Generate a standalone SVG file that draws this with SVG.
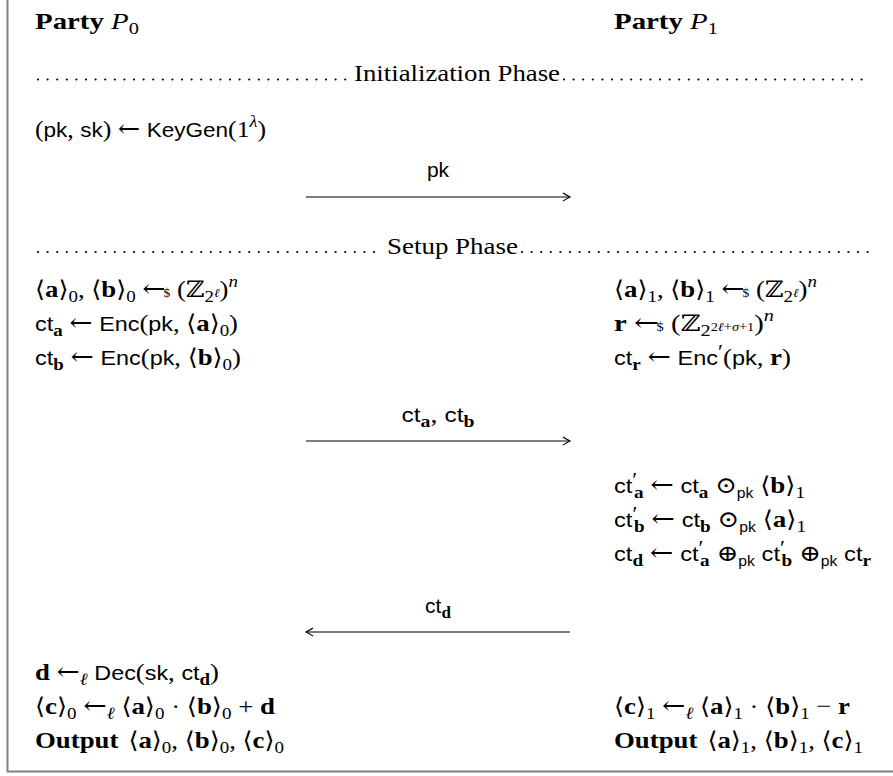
<svg xmlns="http://www.w3.org/2000/svg" width="893" height="776" viewBox="0 0 893 776">
<defs>
<marker id="ah" viewBox="-10 -6 12 12" markerWidth="12" markerHeight="12" refX="0" refY="0" orient="auto" markerUnits="userSpaceOnUse">
<path d="M-7,-4 Q-2,-1 0,0 Q-2,1 -7,4" fill="none" stroke="#000" stroke-width="1.1"/>
</marker>
</defs>
<style>
text{font-family:"Liberation Serif",serif;font-size:24px;fill:#000}
.sf{font-family:"Liberation Sans",sans-serif;font-size:21px}
.b{font-weight:bold}
.i{font-style:italic}
.y{font-family:"DejaVu Serif",serif;font-size:23px}
.ar{font-family:"DejaVu Serif",serif;font-size:25px}
.sub{font-size:17px;baseline-shift:-5px}
.sup{font-size:17px;baseline-shift:10px}
.pr{font-size:20px;baseline-shift:6px}
.ss{font-size:12px;baseline-shift:5px}
.sfs{font-family:"Liberation Sans",sans-serif;font-size:14px;baseline-shift:-5px}
.dol{font-size:12px}
.dots{stroke:#000;stroke-width:2.2;stroke-linecap:round;stroke-dasharray:0 9.6;fill:none}
.conn line{stroke:#000;stroke-width:1.2}
.frame{stroke:#808080;stroke-width:2;fill:none}
</style>
<rect width="893" height="776" fill="#fff"/>
<path class="frame" d="M7.5,0 V771.5 H893"/>

<g id="headers">
<text x="35" y="29" textLength="104" lengthAdjust="spacingAndGlyphs"><tspan class="b">Party</tspan>  <tspan class="i">P</tspan><tspan class="sub">0</tspan></text>
<text x="614" y="29" textLength="104" lengthAdjust="spacingAndGlyphs"><tspan class="b">Party</tspan>  <tspan class="i">P</tspan><tspan class="sub">1</tspan></text>
</g>

<g id="init-phase">
<line class="dots" x1="38" y1="79.5" x2="350" y2="79.5"/>
<text x="354" y="81" textLength="206" lengthAdjust="spacingAndGlyphs">Initialization Phase</text>
<line class="dots" x1="564" y1="79.5" x2="870" y2="79.5"/>
</g>

<g id="p0-keygen">
<text x="35" y="137" textLength="231" lengthAdjust="spacingAndGlyphs">(<tspan class="sf">pk</tspan>, <tspan class="sf">sk</tspan>) <tspan class="ar">←</tspan> <tspan class="sf">KeyGen</tspan>(1<tspan class="sup i">λ</tspan>)</text>
</g>

<g id="setup-phase">
<line class="dots" x1="38" y1="252" x2="383" y2="252"/>
<text x="387" y="254" textLength="131" lengthAdjust="spacingAndGlyphs">Setup Phase</text>
<line class="dots" x1="522" y1="252" x2="870" y2="252"/>
</g>

<g id="p0-setup">
<text x="35" y="297" textLength="203" lengthAdjust="spacingAndGlyphs"><tspan class="y">⟨</tspan><tspan class="b">a</tspan><tspan class="y">⟩</tspan><tspan class="sub">0</tspan>, <tspan class="y">⟨</tspan><tspan class="b">b</tspan><tspan class="y">⟩</tspan><tspan class="sub">0</tspan> <tspan class="ar">←</tspan><tspan class="dol" dx="-2">$</tspan> (<tspan class="y">ℤ</tspan><tspan class="sub">2<tspan class="ss i">ℓ</tspan></tspan>)<tspan class="sup i">n</tspan></text>
<text x="35" y="331" textLength="203" lengthAdjust="spacingAndGlyphs"><tspan class="sf">ct</tspan><tspan class="sub b">a</tspan> <tspan class="ar">←</tspan> <tspan class="sf">Enc</tspan>(<tspan class="sf">pk</tspan>, <tspan class="y">⟨</tspan><tspan class="b">a</tspan><tspan class="y">⟩</tspan><tspan class="sub">0</tspan>)</text>
<text x="35" y="365" textLength="206" lengthAdjust="spacingAndGlyphs"><tspan class="sf">ct</tspan><tspan class="sub b">b</tspan> <tspan class="ar">←</tspan> <tspan class="sf">Enc</tspan>(<tspan class="sf">pk</tspan>, <tspan class="y">⟨</tspan><tspan class="b">b</tspan><tspan class="y">⟩</tspan><tspan class="sub">0</tspan>)</text>
</g>

<g id="p1-setup">
<text x="614" y="297" textLength="203" lengthAdjust="spacingAndGlyphs"><tspan class="y">⟨</tspan><tspan class="b">a</tspan><tspan class="y">⟩</tspan><tspan class="sub">1</tspan>, <tspan class="y">⟨</tspan><tspan class="b">b</tspan><tspan class="y">⟩</tspan><tspan class="sub">1</tspan> <tspan class="ar">←</tspan><tspan class="dol" dx="-2">$</tspan> (<tspan class="y">ℤ</tspan><tspan class="sub">2<tspan class="ss i">ℓ</tspan></tspan>)<tspan class="sup i">n</tspan></text>
<text x="614" y="331" textLength="160" lengthAdjust="spacingAndGlyphs"><tspan class="b">r</tspan> <tspan class="ar">←</tspan><tspan class="dol" dx="-2">$</tspan> (<tspan class="y">ℤ</tspan><tspan class="sub">2<tspan class="ss">2<tspan class="i">ℓ</tspan>+<tspan class="i">σ</tspan>+1</tspan></tspan>)<tspan class="sup i">n</tspan></text>
<text x="614" y="365" textLength="177" lengthAdjust="spacingAndGlyphs"><tspan class="sf">ct</tspan><tspan class="sub b">r</tspan> <tspan class="ar">←</tspan> <tspan class="sf">Enc</tspan><tspan class="pr">′</tspan>(<tspan class="sf">pk</tspan>, <tspan class="b">r</tspan>)</text>
</g>

<g id="p1-compute">
<text x="614" y="493" textLength="191" lengthAdjust="spacingAndGlyphs"><tspan class="sf">ct</tspan><tspan class="pr">′</tspan><tspan class="sub b" dx="-3">a</tspan> <tspan class="ar">←</tspan> <tspan class="sf">ct</tspan><tspan class="sub b">a</tspan> <tspan class="y">⊙</tspan><tspan class="sfs">pk</tspan> <tspan class="y">⟨</tspan><tspan class="b">b</tspan><tspan class="y">⟩</tspan><tspan class="sub">1</tspan></text>
<text x="614" y="527" textLength="192" lengthAdjust="spacingAndGlyphs"><tspan class="sf">ct</tspan><tspan class="pr">′</tspan><tspan class="sub b" dx="-3">b</tspan> <tspan class="ar">←</tspan> <tspan class="sf">ct</tspan><tspan class="sub b">b</tspan> <tspan class="y">⊙</tspan><tspan class="sfs">pk</tspan> <tspan class="y">⟨</tspan><tspan class="b">a</tspan><tspan class="y">⟩</tspan><tspan class="sub">1</tspan></text>
<text x="614" y="561" textLength="257" lengthAdjust="spacingAndGlyphs"><tspan class="sf">ct</tspan><tspan class="sub b">d</tspan> <tspan class="ar">←</tspan> <tspan class="sf">ct</tspan><tspan class="pr">′</tspan><tspan class="sub b" dx="-3">a</tspan> <tspan class="y">⊕</tspan><tspan class="sfs">pk</tspan> <tspan class="sf">ct</tspan><tspan class="pr">′</tspan><tspan class="sub b" dx="-3">b</tspan> <tspan class="y">⊕</tspan><tspan class="sfs">pk</tspan> <tspan class="sf">ct</tspan><tspan class="sub b">r</tspan></text>
</g>

<g id="p0-output">
<text x="35" y="680" textLength="184" lengthAdjust="spacingAndGlyphs"><tspan class="b">d</tspan> <tspan class="ar">←</tspan><tspan class="sub i">ℓ</tspan> <tspan class="sf">Dec</tspan>(<tspan class="sf">sk</tspan>, <tspan class="sf">ct</tspan><tspan class="sub b">d</tspan>)</text>
<text x="35" y="714" textLength="240" lengthAdjust="spacingAndGlyphs"><tspan class="y">⟨</tspan><tspan class="b">c</tspan><tspan class="y">⟩</tspan><tspan class="sub">0</tspan> <tspan class="ar">←</tspan><tspan class="sub i">ℓ</tspan> <tspan class="y">⟨</tspan><tspan class="b">a</tspan><tspan class="y">⟩</tspan><tspan class="sub">0</tspan> · <tspan class="y">⟨</tspan><tspan class="b">b</tspan><tspan class="y">⟩</tspan><tspan class="sub">0</tspan> + <tspan class="b">d</tspan></text>
<text x="35" y="748" textLength="249" lengthAdjust="spacingAndGlyphs"><tspan class="b">Output</tspan> <tspan class="y" dx="3">⟨</tspan><tspan class="b">a</tspan><tspan class="y">⟩</tspan><tspan class="sub">0</tspan>, <tspan class="y">⟨</tspan><tspan class="b">b</tspan><tspan class="y">⟩</tspan><tspan class="sub">0</tspan>, <tspan class="y">⟨</tspan><tspan class="b">c</tspan><tspan class="y">⟩</tspan><tspan class="sub">0</tspan></text>
</g>

<g id="p1-output">
<text x="614" y="714" textLength="236" lengthAdjust="spacingAndGlyphs"><tspan class="y">⟨</tspan><tspan class="b">c</tspan><tspan class="y">⟩</tspan><tspan class="sub">1</tspan> <tspan class="ar">←</tspan><tspan class="sub i">ℓ</tspan> <tspan class="y">⟨</tspan><tspan class="b">a</tspan><tspan class="y">⟩</tspan><tspan class="sub">1</tspan> · <tspan class="y">⟨</tspan><tspan class="b">b</tspan><tspan class="y">⟩</tspan><tspan class="sub">1</tspan> − <tspan class="b">r</tspan></text>
<text x="614" y="748" textLength="249" lengthAdjust="spacingAndGlyphs"><tspan class="b">Output</tspan> <tspan class="y" dx="3">⟨</tspan><tspan class="b">a</tspan><tspan class="y">⟩</tspan><tspan class="sub">1</tspan>, <tspan class="y">⟨</tspan><tspan class="b">b</tspan><tspan class="y">⟩</tspan><tspan class="sub">1</tspan>, <tspan class="y">⟨</tspan><tspan class="b">c</tspan><tspan class="y">⟩</tspan><tspan class="sub">1</tspan></text>
</g>

<g id="connectors" class="conn">
<line x1="306" y1="197" x2="570" y2="197" marker-end="url(#ah)"/>
<text x="438" y="177" text-anchor="middle" class="sf">pk</text>
<line x1="306" y1="441" x2="570" y2="441" marker-end="url(#ah)"/>
<text x="438" y="422" text-anchor="middle" textLength="73" lengthAdjust="spacingAndGlyphs"><tspan class="sf">ct</tspan><tspan class="sub b">a</tspan>, <tspan class="sf">ct</tspan><tspan class="sub b">b</tspan></text>
<line x1="570" y1="632" x2="306" y2="632" marker-end="url(#ah)"/>
<text x="438" y="613" text-anchor="middle"><tspan class="sf">ct</tspan><tspan class="sub b">d</tspan></text>
</g>
</svg>
